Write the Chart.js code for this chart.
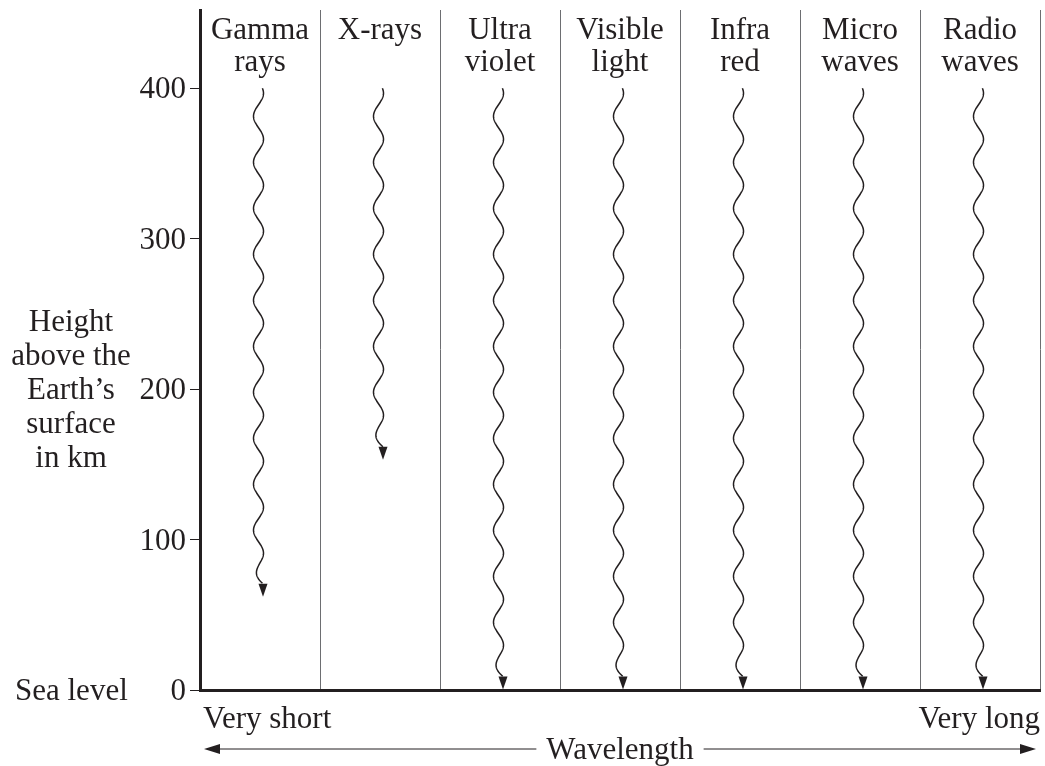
<!DOCTYPE html>
<html>
<head>
<meta charset="utf-8">
<script src="https://cdn.jsdelivr.net/npm/chart.js@4/dist/chart.umd.min.js"></script>
<style>
  html, body { margin: 0; padding: 0; background: #fff; }
  #wrap { width: 1045px; height: 766px; }
</style>
</head>
<body>
<div id="wrap"><canvas id="chart" width="1045" height="766"></canvas></div>
<script>
// radiation types, short to long wavelength
const categories = [
  ['Gamma', 'rays'], ['X-rays'], ['Ultra', 'violet'], ['Visible', 'light'],
  ['Infra', 'red'], ['Micro', 'waves'], ['Radio', 'waves']
];
// height (km) where each wave starts and how far down it gets
const startHeight = [400, 400, 400, 400, 400, 400, 400];
const reachHeight = [62, 153, 0, 0, 0, 0, 0];
const yTicks = [0, 100, 200, 300, 400];
const yTitle = ['Height', 'above the', 'Earth\u2019s', 'surface', 'in km'];

const ink = '#231f20';
const serif = '"Liberation Serif", "DejaVu Serif", serif';

// draws the wavy arrows on top of the (invisible) floating bars
const wavePlugin = {
  id: 'waves',
  afterDatasetsDraw(chart) {
    const ctx = chart.ctx;
    const meta = chart.getDatasetMeta(0);
    const amp = 5, period = 46, head = 13, blend = 26;
    ctx.save();
    ctx.strokeStyle = ink;
    ctx.fillStyle = ink;
    ctx.lineWidth = 1.5;
    meta.data.forEach(bar => {
      const cx = bar.x - 1.5;
      const tipX = bar.x + 3;
      const top = Math.min(bar.y, bar.base);
      const bottom = Math.max(bar.y, bar.base);
      const stop = bottom - head;
      const wave = y => cx + amp * Math.cos(2 * Math.PI * (y - top - 5) / period);
      const shift = tipX - wave(stop);
      const wx = y => {
        const t = Math.max(0, (y - (stop - blend)) / blend);
        return wave(y) + shift * t * t;
      };
      ctx.beginPath();
      ctx.moveTo(wx(top), top);
      for (let y = top + 0.5; y <= stop; y += 0.5) ctx.lineTo(wx(y), y);
      ctx.stroke();
      ctx.beginPath();
      ctx.moveTo(tipX - 4.5, stop);
      ctx.lineTo(tipX + 4.5, stop);
      ctx.lineTo(tipX, bottom);
      ctx.closePath();
      ctx.fill();
    });
    ctx.restore();
  }
};

// text around the plot: column names, axis words, wavelength arrow
const labelPlugin = {
  id: 'labels',
  afterDraw(chart) {
    const ctx = chart.ctx;
    const xs = chart.scales.x;
    const ys = chart.scales.y;
    const area = chart.chartArea;
    ctx.save();
    ctx.fillStyle = ink;
    ctx.font = '31px ' + serif;
    ctx.textAlign = 'center';
    ctx.textBaseline = 'middle';
    categories.forEach((lines, i) => {
      const x = xs.getPixelForValue(i);
      lines.forEach((t, j) => ctx.fillText(t, x, area.top + 21 + j * 32));
    });

    yTitle.forEach((t, j) => ctx.fillText(t, 71, ys.getPixelForValue(200) - 66 + j * 34));

    ctx.textAlign = 'left';
    ctx.fillText('Sea level', 15, ys.getPixelForValue(0) + 2);
    ctx.fillText('Very short', area.left + 3, area.bottom + 30);
    ctx.textAlign = 'right';
    ctx.fillText('Very long', area.right, area.bottom + 30);

    // wavelength double arrow
    const ay = area.bottom + 59;
    const mid = 620;
    ctx.textAlign = 'center';
    ctx.fillText('Wavelength', mid, ay + 2);
    const half = ctx.measureText('Wavelength').width / 2 + 10;
    ctx.strokeStyle = ink;
    ctx.lineWidth = 1;
    ctx.beginPath();
    ctx.moveTo(area.left + 18, ay);
    ctx.lineTo(mid - half, ay);
    ctx.moveTo(mid + half, ay);
    ctx.lineTo(area.right - 18, ay);
    ctx.stroke();
    ctx.beginPath();
    ctx.moveTo(area.left + 4, ay);
    ctx.lineTo(area.left + 20, ay - 5);
    ctx.lineTo(area.left + 20, ay + 5);
    ctx.closePath();
    ctx.moveTo(area.right - 4, ay);
    ctx.lineTo(area.right - 20, ay - 5);
    ctx.lineTo(area.right - 20, ay + 5);
    ctx.closePath();
    ctx.fill();
    ctx.restore();
  }
};

new Chart(document.getElementById('chart'), {
  type: 'bar',
  data: {
    labels: categories.map(c => c.join(' ')),
    datasets: [{
      data: startHeight.map((s, i) => [s, reachHeight[i]]),
      backgroundColor: 'rgba(0,0,0,0)',
      borderWidth: 0
    }]
  },
  options: {
    responsive: false,
    animation: false,
    layout: { padding: { top: 10, right: 5, bottom: 76, left: 0 } },
    plugins: { legend: { display: false }, tooltip: { enabled: false } },
    scales: {
      x: {
        grid: { offset: true, color: '#6d6e71', lineWidth: 1, drawTicks: false },
        border: { display: true, color: ink, width: 3 },
        ticks: { display: false }
      },
      y: {
        min: 0,
        max: 452,
        afterFit(scale) {
          scale.width = 200;
          scale.paddingTop = 0;
          scale.paddingBottom = 0;
        },
        afterBuildTicks(scale) { scale.ticks = yTicks.map(v => ({ value: v })); },
        grid: { drawOnChartArea: false, tickLength: 10, color: ink, lineWidth: 1 },
        border: { display: true, color: ink, width: 3 },
        ticks: { color: ink, font: { family: serif, size: 31 }, padding: 4, labelOffset: 2 }
      }
    }
  },
  plugins: [wavePlugin, labelPlugin]
});
</script>
</body>
</html>
